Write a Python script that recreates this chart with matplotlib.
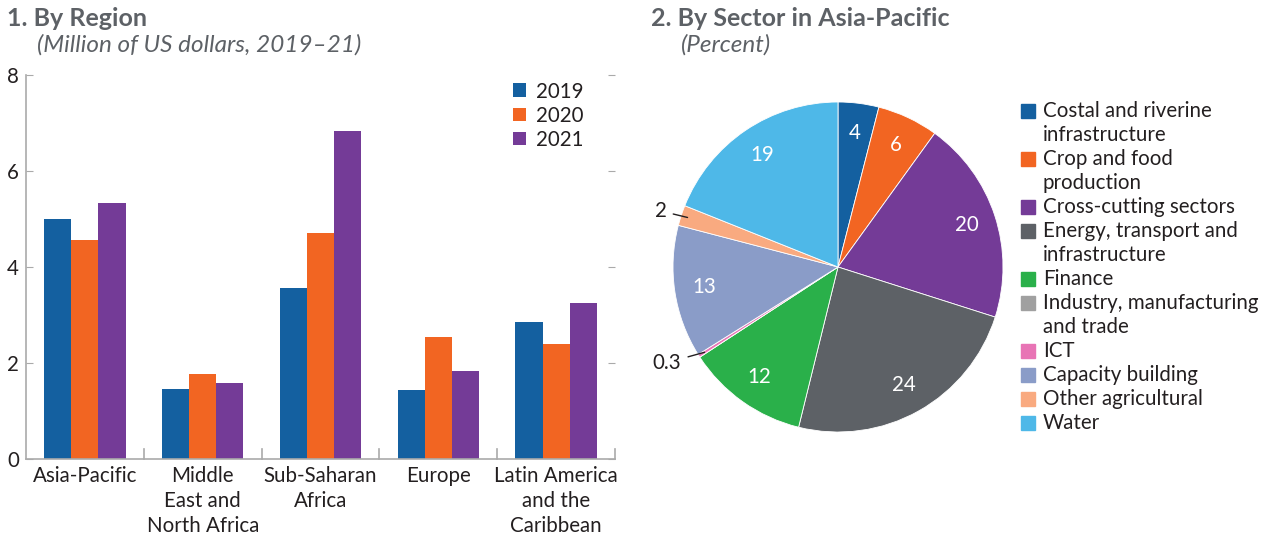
import matplotlib.pyplot as plt
import numpy as np
from matplotlib.patches import Rectangle

plt.rcParams["font.family"] = ["Lato", "DejaVu Sans"]

# panel 1 data
regions = ["Asia-Pacific", "Middle\nEast and\nNorth Africa", "Sub-Saharan\nAfrica",
           "Europe", "Latin America\nand the\nCaribbean"]
years = ["2019", "2020", "2021"]
v2019 = [5.0, 1.46, 3.56, 1.44, 2.85]
v2020 = [4.57, 1.77, 4.71, 2.54, 2.40]
v2021 = [5.34, 1.58, 6.84, 1.83, 3.25]
year_colors = ["#1460a0", "#f26522", "#743b97"]

# panel 2 data
sectors = ["Costal and riverine\ninfrastructure", "Crop and food\nproduction",
           "Cross-cutting sectors", "Energy, transport and\ninfrastructure", "Finance",
           "Industry, manufacturing\nand trade", "ICT", "Capacity building",
           "Other agricultural", "Water"]
shares = [4, 6, 20, 24, 12, 0, 0.3, 13, 2, 19]
share_labels = ["4", "6", "20", "24", "12", "", "", "13", "", "19"]
sector_colors = ["#1460a0", "#f26522", "#743b97", "#5d6166", "#2ab04a",
                 "#a0a0a0", "#e874b5", "#8a9cc8", "#f9aa80", "#4eb8e8"]

W, H = 1268, 539
fig = plt.figure(figsize=(W / 100, H / 100), dpi=100)

def fx(px):
    return px / W

def fy(py):
    return 1 - py / H

title_col = "#5d6166"
text_col = "#231f20"
fs = 14.8

fig.text(fx(7), fy(18), "1. By Region", fontsize=18, fontweight="bold",
         color=title_col, va="center")
fig.text(fx(37), fy(45), "(Million of US dollars, 2019\u201321)", fontsize=17.5,
         style="italic", color=title_col, va="center")
fig.text(fx(651), fy(18), "2. By Sector in Asia-Pacific", fontsize=18,
         fontweight="bold", color=title_col, va="center")
fig.text(fx(681), fy(45), "(Percent)", fontsize=17.5, style="italic",
         color=title_col, va="center")

# bar chart
ax = fig.add_axes([fx(26), fy(459), fx(615) - fx(26), fy(75) - fy(459)])
x = np.arange(len(regions))
w = 0.23
for i, (vals, yr) in enumerate(zip([v2019, v2020, v2021], years)):
    ax.bar(x + (i - 1) * w, vals, width=w, color=year_colors[i], label=yr)
ax.set_xlim(-0.5, 4.5)
ax.set_ylim(0, 8)
ax.set_yticks([0, 2, 4, 6, 8])
ax.set_xticks(x)
ax.set_xticklabels(regions, fontsize=fs, color=text_col, linespacing=1.3)
ax.tick_params(axis="x", length=0, pad=5)
ax.tick_params(axis="y", labelsize=fs, labelcolor=text_col, color="#aaaaaa",
               length=5, direction="in", right=True, pad=5)
for s in ["top", "right"]:
    ax.spines[s].set_visible(False)
for s in ["left", "bottom"]:
    ax.spines[s].set_color("#aaaaaa")
    ax.spines[s].set_linewidth(1.2)
for sep in np.arange(0.5, 5.0, 1):
    ax.plot([sep, sep], [0, 0.2], color="#aaaaaa", lw=1.2, clip_on=False)
leg = ax.legend(loc="upper left", bbox_to_anchor=(fx(494), fy(63)),
                bbox_transform=fig.transFigure, frameon=False,
                fontsize=fs, handlelength=0.65, handleheight=0.65,
                handletextpad=0.5, labelspacing=0.2)
for t in leg.get_texts():
    t.set_color(text_col)

# pie chart
r = 165
cx, cy = 838, 267
pax = fig.add_axes([fx(cx - r), fy(cy + r), fx(2 * r), fy(cy - r) - fy(cy + r)])
wedges, texts = pax.pie(shares, colors=sector_colors, startangle=90,
                        counterclock=False, labels=share_labels,
                        labeldistance=0.82,
                        wedgeprops=dict(linewidth=0.6, edgecolor="white"),
                        textprops=dict(color="white", fontsize=fs))
for t in texts:
    t.set_ha("center")
    t.set_va("center")
pax.set_xlim(-1, 1)
pax.set_ylim(-1, 1)
pax.set_aspect("equal")
pax.axis("off")

# outside labels for the thin slices
def wedge_point(idx, rad):
    wd = wedges[idx]
    ang = np.deg2rad((wd.theta1 + wd.theta2) / 2)
    return rad * np.cos(ang), rad * np.sin(ang)

for idx, txt, off in [(8, "2", (-1.04, 0.34)), (6, "0.3", (-0.95, -0.58))]:
    pax.annotate(txt, xy=wedge_point(idx, 0.96), xytext=off, fontsize=fs,
                 color=text_col, ha="right", va="center",
                 arrowprops=dict(arrowstyle="-", color=text_col, lw=1,
                                 shrinkA=3, shrinkB=0),
                 annotation_clip=False)

# sector legend
ly = 111
for name, col in zip(sectors, sector_colors):
    fig.patches.append(Rectangle((fx(1021), fy(ly + 7)), fx(14), fy(ly - 7) - fy(ly + 7),
                                 transform=fig.transFigure, color=col))
    for line in name.split("\n"):
        fig.text(fx(1043), fy(ly), line, fontsize=fs, color=text_col, va="center")
        ly += 24

fig.savefig("out.png", dpi=100)
